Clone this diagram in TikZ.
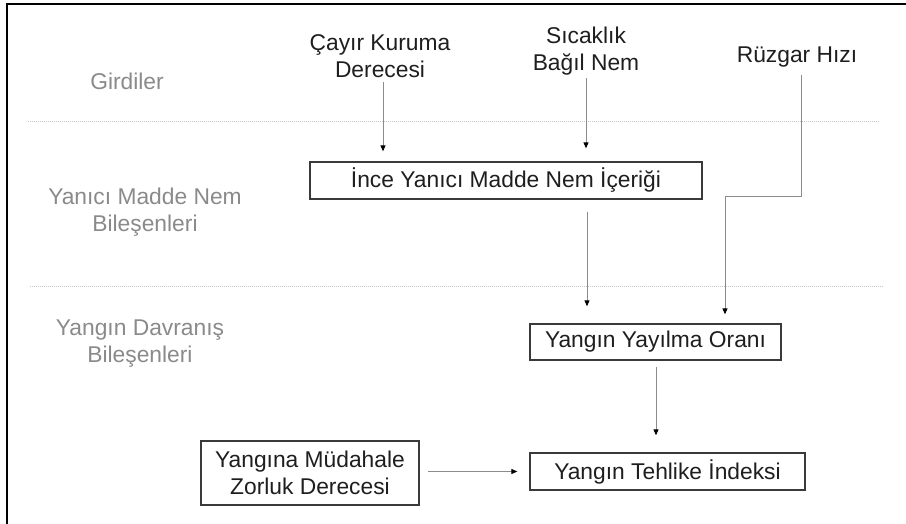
\documentclass[tikz,border=0pt]{standalone}
\usepackage{fontspec}
\setmainfont{Liberation Sans}
\usetikzlibrary{arrows.meta,calc}
\definecolor{labelgray}{HTML}{8A8A8A}
\definecolor{linegray}{HTML}{8C8C8C}
\definecolor{boxline}{HTML}{3A3A3A}
\definecolor{textdark}{HTML}{1E1E1E}
\begin{document}
\begin{tikzpicture}[x=1pt,y=-1pt,
  every node/.style={font=\fontsize{22.8}{27}\selectfont, text=textdark, align=center, inner sep=0pt},
  tier/.style={text=labelgray},
  stagebox/.style={draw=boxline, line width=1.3pt, minimum height=37pt, text=textdark},
  flow/.style={draw=linegray, line width=0.9pt, -{Triangle[length=6pt,width=5pt,color=black]}},
  divider/.style={draw=gray!45, line width=0.7pt, dash pattern=on 1pt off 1pt}]
\useasboundingbox (0,0) rectangle (906,524);
% frame edges
\draw[line width=2.5pt, black] (906,4) -- (7,4) -- (7,524);
% tier dividers
\draw[divider] (28,121) -- (880,121);
\draw[divider] (30,286) -- (883,286);
% tier labels
\node[tier] (tinput) at (127,81) {Girdiler};
\node[tier] (tmoist) at (145,212) {Yanıcı Madde Nem\\Bileşenleri};
\node[tier] (tbehav) at (140,344) {Yangın Davranış\\Bileşenleri};
% inputs
\node (cayir) at (380,56.5) {Çayır Kuruma\\Derecesi};
\node (sicak) at (586,51.5) {Sıcaklık\\Bağıl Nem};
\node (ruzgar) at (797,57) {Rüzgar Hızı};
% stage boxes
\node[stagebox, minimum width=392pt] (ince) at (506,180.5) {İnce Yanıcı Madde Nem İçeriği};
\node[stagebox, minimum width=251pt, minimum height=36pt] (yayilma) at (655.5,342) {Yangın Yayılma Oranı};
\node[stagebox, minimum width=275pt] (tehlike) at (667.5,471.5) {Yangın Tehlike İndeksi};
\node[stagebox, minimum width=218pt, minimum height=64pt] (mudahale) at (310,473) {Yangına Müdahale\\Zorluk Derecesi};
% connectors
\coordinate (cayirx) at (383,0);
\coordinate (sicakx) at (586,0);
\coordinate (incex) at (587,0);
\coordinate (yayx) at (656,0);
\coordinate (ruzx) at (801,0);
\coordinate (rbend) at (725,196);
\draw[flow, shorten <=4pt, shorten >=10pt] (cayir.south -| cayirx) -- (cayirx |- ince.north);
\draw[flow, shorten <=2pt, shorten >=13pt] (sicak.south -| sicakx) -- (sicakx |- ince.north);
\draw[flow, shorten <=12pt, shorten >=17pt] (ince.south -| incex) -- (incex |- yayilma.north);
\draw[flow, shorten <=6pt, shorten >=17pt] (yayilma.south -| yayx) -- (yayx |- tehlike.north);
\draw[flow, shorten <=8pt, shorten >=12pt] (mudahale.east |- tehlike.west) -- (tehlike.west);
\draw[flow, shorten <=8pt, shorten >=9pt] (ruzgar.south -| ruzx) -- (ruzx |- rbend) -- (rbend) -- (rbend |- yayilma.north);
\end{tikzpicture}
\end{document}
